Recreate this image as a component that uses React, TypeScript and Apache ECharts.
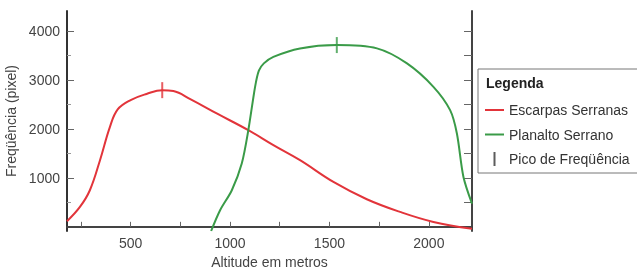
import React, { useEffect, useRef } from "react";
import * as echarts from "echarts";

const escarpasSerranas: [number, number][] = [
  [180, 115], [245, 407], [295, 748], [346, 1362], [396, 2043], [435, 2400],
  [500, 2590], [580, 2715], [659, 2793], [715, 2775], [800, 2610], [933, 2317],
  [1092, 1975], [1218, 1669], [1352, 1362], [1520, 918], [1688, 564], [1855, 305],
  [2023, 100], [2217, -40],
];

const planaltoSerrano: [number, number][] = [
  [905, -85], [950, 339], [1009, 748], [1059, 1294], [1092, 1975], [1126, 2861],
  [1145, 3190], [1170, 3340], [1218, 3474], [1352, 3646], [1537, 3714], [1739, 3646],
  [1890, 3339], [2023, 2861], [2107, 2384], [2141, 1908], [2174, 1020], [2217, 476],
];

const picos: [number, number][] = [
  [659, 2793],
  [1537, 3714],
];

const yMajorTicks = [1000, 2000, 3000, 4000];
const yMinorTicks = [500, 1500, 2500, 3500];
const yRightTicks = [500, 1000, 1500, 2000, 2500, 3000, 3500, 4000];
const xLabels = [500, 1000, 1500, 2000];
const xTicks = [250, 500, 750, 1000, 1250, 1500, 1750, 2000];

const RED = "#e2343a";
const GREEN = "#3a9b48";
const AXIS = "#333";
const FONT = "Liberation Sans, Arial, sans-serif";

export default function App() {
  const ref = useRef<HTMLDivElement>(null);
  useEffect(() => {
    if (!ref.current) return;
    const chart = echarts.init(ref.current, null, { renderer: "svg" });
    const yBase = { type: "value", min: -85, max: 4410, splitLine: { show: false } };
    const plain = (v: number) => String(v);
    chart.setOption({
      animation: false,
      textStyle: { fontFamily: FONT },
      grid: { left: 67, top: 11, right: 165, bottom: 40, containLabel: false, outerBoundsMode: "none" },
      xAxis: [
        {
          type: "value",
          min: 180,
          max: 2217,
          position: "bottom",
          splitLine: { show: false },
          axisLine: { show: true, lineStyle: { color: AXIS, width: 2 } },
          axisTick: { show: true, inside: true, length: 5, customValues: xTicks, lineStyle: { color: "#666" } },
          axisLabel: { customValues: xLabels, formatter: plain, color: "#444", fontSize: 14, margin: 5, fontFamily: FONT },
          name: "Altitude em metros",
          nameLocation: "middle",
          nameGap: 19,
          nameTextStyle: { color: "#444", fontSize: 14, fontFamily: FONT },
        },
        {
          type: "value",
          min: 180,
          max: 2217,
          position: "top",
          splitLine: { show: false },
          axisLine: { show: true, lineStyle: { color: "#444", width: 2 } },
          axisTick: { show: false },
          axisLabel: { show: false },
        },
      ],
      yAxis: [
        {
          ...yBase,
          position: "left",
          axisLine: { show: true, lineStyle: { color: AXIS, width: 2 } },
          axisTick: { show: true, inside: true, length: 7, customValues: yMajorTicks, lineStyle: { color: "#666" } },
          axisLabel: { customValues: yMajorTicks, formatter: plain, color: "#444", fontSize: 14, margin: 7, fontFamily: FONT },
          name: "Freqüência (pixel)",
          nameLocation: "middle",
          nameGap: 42,
          nameTextStyle: { color: "#444", fontSize: 14, fontFamily: FONT },
        },
        {
          ...yBase,
          position: "left",
          axisLine: { show: false },
          axisTick: { show: true, inside: true, length: 4, customValues: yMinorTicks, lineStyle: { color: "#999" } },
          axisLabel: { show: false },
        },
        {
          ...yBase,
          position: "right",
          axisLine: { show: true, lineStyle: { color: "#444", width: 2 } },
          axisTick: { show: true, inside: true, length: 8, customValues: yRightTicks, lineStyle: { color: "#666" } },
          axisLabel: { show: false },
        },
      ],
      graphic: [
        {
          type: "rect",
          shape: { x: 478, y: 69, width: 170, height: 104 },
          style: { fill: "#fff", stroke: "#777", lineWidth: 1 },
          z: 0,
        },
        {
          type: "text",
          x: 486,
          y: 83,
          style: {
            text: "Legenda",
            fontSize: 14,
            fontWeight: "bold",
            fill: "#222",
            fontFamily: FONT,
            verticalAlign: "middle",
          },
          z: 1,
        },
      ],
      legend: {
        orient: "vertical",
        left: 485,
        top: 103,
        padding: 0,
        itemWidth: 19,
        itemHeight: 14,
        itemGap: 10.5,
        textStyle: { color: "#333", fontSize: 14, fontFamily: FONT },
        data: [
          { name: "Escarpas Serranas", icon: "path://M0,0 L19,0 L19,2 L0,2 Z" },
          { name: "Planalto Serrano", icon: "path://M0,0 L19,0 L19,2 L0,2 Z" },
          { name: "Pico de Freqüência", icon: "path://M0,0 L2,0 L2,14 L0,14 Z" },
        ],
      },
      series: [
        {
          name: "Escarpas Serranas",
          type: "line",
          data: escarpasSerranas,
          smooth: 0.4,
          symbol: "none",
          lineStyle: { color: RED, width: 2 },
          itemStyle: { color: RED },
          z: 3,
        },
        {
          name: "Planalto Serrano",
          type: "line",
          data: planaltoSerrano,
          smooth: 0.3,
          symbol: "none",
          lineStyle: { color: GREEN, width: 2 },
          itemStyle: { color: GREEN },
          z: 3,
        },
        {
          name: "Pico de Freqüência",
          type: "scatter",
          data: [
            { value: picos[0], itemStyle: { color: RED } },
            { value: picos[1], itemStyle: { color: GREEN } },
          ],
          symbol: "rect",
          symbolSize: [2, 16],
          itemStyle: { color: "#333" },
          z: 4,
        },
      ],
    });
    return () => chart.dispose();
  }, []);
  return <div ref={ref} style={{ position: "fixed", left: 0, top: 0, width: 637, height: 271 }} />;
}
